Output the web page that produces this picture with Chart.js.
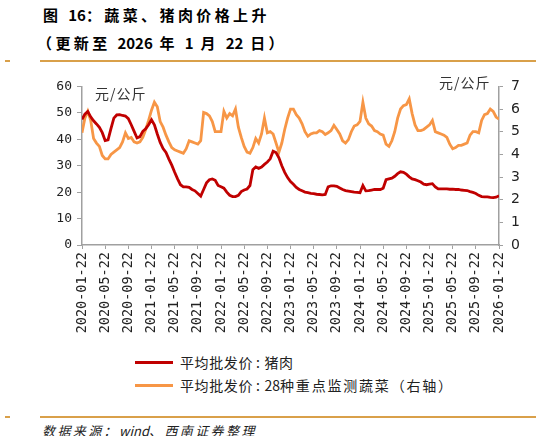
<!DOCTYPE html>
<html>
<head>
<meta charset="utf-8">
<script src="https://cdn.jsdelivr.net/npm/chart.js@4.4.1/dist/chart.umd.min.js"></script>
<style>
    body { margin: 0; background: #fff; font-family: "Noto Sans CJK SC", sans-serif; }
    #page { position: relative; width: 542px; height: 436px; overflow: hidden; }
    .abs { position: absolute; white-space: nowrap; }
    .title { font-size: 15px; font-weight: bold; color: #000; letter-spacing: 3.4px; line-height: 20px; }
    .num { letter-spacing: 0; }
    .rule { position: absolute; height: 2px; background: #D9A04A; }
    .unit { font-size: 14px; color: #333; letter-spacing: 1px; line-height: 18px; }
    .legend-line { position: absolute; width: 38px; height: 3px; }
    .legend-text { font-size: 14px; color: #222; letter-spacing: 0.6px; line-height: 18px; }
    .colon { margin: 0 4px 0 3px; }
    .wide { letter-spacing: 1.8px; }
    .source { font-size: 13px; font-style: italic; color: #222; letter-spacing: 2.4px; line-height: 18px; }
    #chart-box { position: absolute; left: 0; top: 70px; width: 542px; height: 280px; }
</style>
</head>
<body>
<div id="page">
    <div class="abs title" style="left:43px;top:5px;">图 <span class="num">16</span>：蔬菜、猪肉价格上升</div>
    <div class="abs title" style="left:37px;top:33px;">（更新至 <span class="num">2026</span> 年 <span class="num">1</span> 月 <span class="num">22</span> 日）</div>
    <div class="rule" style="left:5px;top:60px;width:5px;"></div>
    <div class="rule" style="left:40px;top:60px;width:496px;"></div>

    <div id="chart-box"><canvas id="priceChart"></canvas></div>
    <div class="abs unit" style="left:95px;top:84px;">元/公斤</div>
    <div class="abs unit" style="left:439px;top:73px;">元/公斤</div>

    <div class="legend-line" style="left:135px;top:361px;background:#C00000;"></div>
    <div class="abs legend-text" style="left:180px;top:353px;">平均批发价<span class="colon">:</span>猪肉</div>
    <div class="legend-line" style="left:135px;top:384px;background:#F79646;"></div>
    <div class="abs legend-text" style="left:180px;top:376px;">平均批发价<span class="colon">:</span><span class="wide"><span class="num">28</span>种重点监测蔬菜（右轴）</span></div>

    <div class="rule" style="left:5px;top:416px;width:5px;"></div>
    <div class="rule" style="left:40px;top:416px;width:496px;"></div>
    <div class="abs source" style="left:42px;top:422px;">数据来源：<span class="num">wind</span>、西南证券整理</div>
</div>

<script>
// half-month samples from 2020-01-22 to 2026-01-22
const tickLabels = [
    '2020-01-22', '2020-05-22', '2020-09-22', '2021-01-22', '2021-05-22',
    '2021-09-22', '2022-01-22', '2022-05-22', '2022-09-22', '2023-01-22',
    '2023-05-22', '2023-09-22', '2024-01-22', '2024-05-22', '2024-09-22',
    '2025-01-22', '2025-05-22', '2025-09-22', '2026-01-22'
];

// pork, yuan/kg (left axis)
const pork = [
    47.5, 49.5, 50.5, 48.5, 47.0, 45.8, 44.5, 42.5, 39.5, 39.8,
    44.0, 48.0, 49.2, 49.3, 49.0, 48.8, 47.8, 45.5, 43.0, 40.5,
    41.0, 43.0, 44.0, 45.5, 47.4, 45.5, 42.0, 38.8, 36.5, 35.0,
    32.5, 30.2, 27.5, 25.0, 22.8, 22.0, 22.0, 21.8, 21.0, 20.5,
    19.5, 18.5, 21.0, 23.5, 24.7, 25.0, 24.5, 22.5, 22.0, 21.5,
    20.0, 18.8, 18.3, 18.3, 18.8, 20.2, 20.8, 21.2, 22.5, 28.5,
    29.5, 29.0, 29.5, 30.5, 31.4, 32.6, 35.5, 35.0, 33.0, 30.0,
    27.5, 25.5, 24.0, 23.0, 21.8, 21.0, 20.5, 20.0, 19.8, 19.5,
    19.4, 19.2, 19.1, 19.0, 19.1, 22.0, 22.4, 22.4, 22.2, 21.6,
    21.0, 20.6, 20.4, 20.2, 20.0, 19.9, 19.8, 22.5, 20.5, 20.6,
    20.8, 21.0, 21.0, 21.0, 21.5, 24.7, 25.0, 25.3, 26.0, 27.0,
    27.7, 27.5, 26.8, 25.8, 25.0, 24.7, 24.3, 23.8, 23.0, 22.8,
    23.0, 23.2, 22.0, 21.2, 21.2, 21.2, 21.2, 21.1, 21.1, 21.0,
    21.0, 20.8, 20.7, 20.6, 20.2, 19.9, 19.5, 18.8, 18.3, 18.2,
    18.2, 18.0, 17.9, 18.1, 18.6
];

// 28 key vegetables, yuan/kg (right axis)
const veg = [
    4.95, 5.60, 5.90, 5.50, 4.70, 4.50, 4.35, 3.95, 3.80, 3.80,
    4.00, 4.10, 4.20, 4.30, 4.55, 4.95, 4.70, 4.75, 4.55, 4.50,
    4.55, 4.75, 5.10, 5.50, 5.95, 6.30, 6.10, 5.45, 5.20, 4.85,
    4.55, 4.30, 4.20, 4.15, 4.10, 4.05, 4.25, 4.60, 4.55, 4.50,
    4.45, 4.60, 5.85, 5.80, 5.70, 5.45, 5.00, 5.00, 5.00, 5.90,
    5.60, 5.80, 5.70, 6.00, 5.20, 4.75, 4.35, 4.10, 4.05, 4.30,
    4.70, 4.50, 4.90, 5.60, 4.95, 5.00, 4.90, 4.50, 4.10, 4.50,
    5.10, 5.60, 6.00, 6.00, 5.75, 5.60, 5.35, 5.00, 4.80, 4.90,
    4.95, 4.95, 5.05, 5.00, 4.88, 4.95, 5.05, 5.28, 5.10, 4.90,
    4.60, 4.50, 4.65, 5.00, 5.25, 5.30, 5.45, 6.30, 5.60, 5.35,
    5.25, 5.05, 5.00, 4.90, 4.85, 4.45, 4.35, 4.60, 5.00, 5.60,
    6.00, 6.15, 6.20, 6.45, 5.80, 5.30, 5.05, 5.05, 5.10, 5.20,
    5.30, 5.50, 5.00, 4.95, 4.90, 4.85, 4.75, 4.45, 4.25, 4.30,
    4.40, 4.40, 4.45, 4.50, 4.85, 5.00, 5.00, 4.95, 5.50, 5.75,
    5.80, 6.00, 5.90, 5.65, 5.55
];

const axisColor = '#A0A0A0';

const ctx = document.getElementById('priceChart').getContext('2d');
new Chart(ctx, {
    type: 'line',
    data: {
        datasets: [
            {
                label: '平均批发价:猪肉',
                data: pork.map((v, i) => ({ x: i / 2, y: v })),
                borderColor: '#C00000',
                borderWidth: 2.8,
                pointRadius: 0,
                tension: 0,
                yAxisID: 'y'
            },
            {
                label: '平均批发价:28种重点监测蔬菜（右轴）',
                data: veg.map((v, i) => ({ x: i / 2, y: v })),
                borderColor: '#F79646',
                borderWidth: 2.8,
                pointRadius: 0,
                tension: 0,
                yAxisID: 'y2'
            }
        ]
    },
    options: {
        responsive: true,
        maintainAspectRatio: false,
        animation: false,
        layout: { padding: { top: 12, left: 0, right: 0, bottom: 0 } },
        plugins: { legend: { display: false }, tooltip: { enabled: false } },
        scales: {
            x: {
                type: 'linear',
                min: 0,
                max: 72,
                afterBuildTicks: (scale) => {
                    scale.ticks = tickLabels.map((_, i) => ({ value: i * 4 }));
                },
                afterFit: (scale) => { scale.height = 105; },
                grid: { drawOnChartArea: false, color: axisColor, tickLength: 4 },
                border: { color: axisColor, width: 1.5 },
                ticks: {
                    autoSkip: false,
                    maxRotation: 90,
                    minRotation: 90,
                    padding: 3,
                    color: '#222',
                    font: { family: 'DejaVu Sans Mono', size: 13.5 },
                    callback: (v) => tickLabels[Math.round(v / 4)]
                }
            },
            y: {
                position: 'left',
                min: 0,
                max: 60,
                afterFit: (scale) => { scale.width = 82; },
                grid: { drawOnChartArea: false, color: axisColor, tickLength: 5 },
                border: { color: axisColor, width: 1.5 },
                ticks: {
                    stepSize: 10,
                    padding: 5,
                    color: '#222',
                    font: { family: 'DejaVu Sans Mono', size: 13 }
                }
            },
            y2: {
                position: 'right',
                min: 0,
                max: 7,
                afterFit: (scale) => { scale.width = 43; },
                grid: { drawOnChartArea: false, color: axisColor, tickLength: 4 },
                border: { color: axisColor, width: 1.5 },
                ticks: {
                    stepSize: 1,
                    padding: 8,
                    color: '#222',
                    font: { family: 'DejaVu Sans', size: 14 }
                }
            }
        }
    }
});
</script>
</body>
</html>
